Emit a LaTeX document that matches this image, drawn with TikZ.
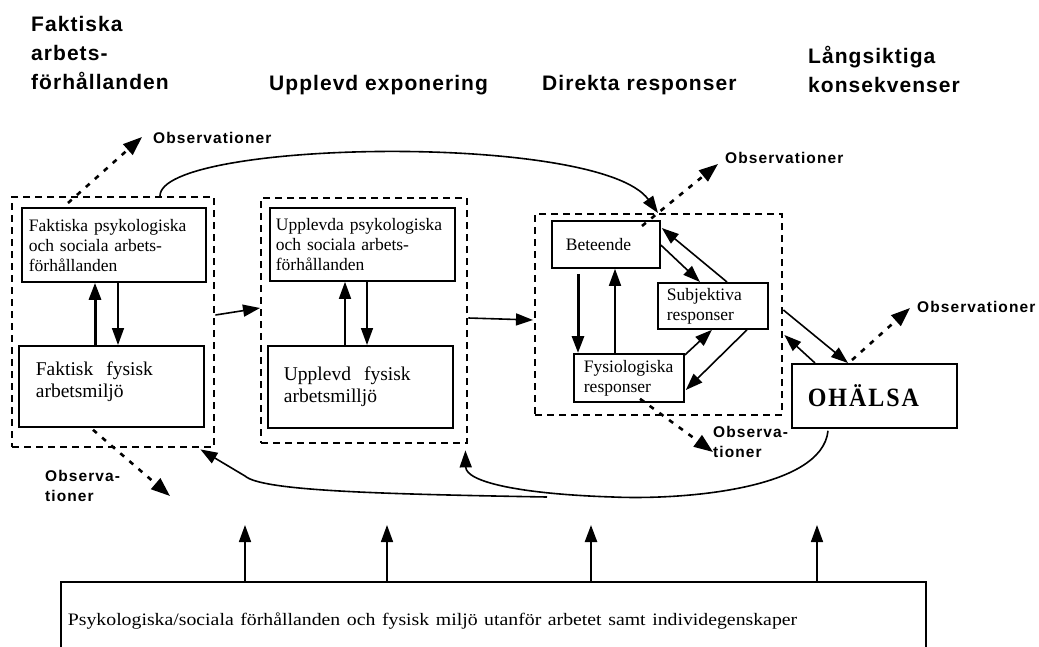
\documentclass[tikz,border=0pt]{standalone}
\usepackage{fontspec}
\setmainfont{Liberation Serif}
\newfontfamily\titlefont{Liberation Sans}[LetterSpace=5]
\newfontfamily\obsfont{Liberation Sans}[LetterSpace=7]
\newfontfamily\ohfont{Liberation Serif}[LetterSpace=8]
\usetikzlibrary{arrows.meta,calc}
\begin{document}
\begin{tikzpicture}[x=1pt,y=-1pt,
 box/.style={draw, line width=1.8pt, inner sep=0pt, anchor=north west, align=left, font=\fontsize{17.5}{20}\selectfont},
 bigbox/.style={box, font=\fontsize{19.5}{22}\selectfont},
 dbox/.style={draw, line width=2.4pt, dash pattern=on 7pt off 5pt, inner sep=0pt, anchor=north west},
 arr/.style={line width=1.6pt, -{Triangle[length=17pt,width=12pt]}},
 tarr/.style={arr, line width=3pt},
 obsarr/.style={line width=2.6pt, dash pattern=on 5pt off 7pt, -{Triangle[length=19pt,width=14pt]}},
 obs/.style={font=\obsfont\bfseries\fontsize{15.5}{19.5}\selectfont, inner sep=0pt, align=left},
 title/.style={font=\titlefont\bfseries\fontsize{21}{29}\selectfont, inner sep=0pt, align=left},
 curve/.style={line width=1.6pt},
]
\useasboundingbox (0,0) rectangle (1039,646);

% titles
\node[title, anchor=north west] (t1) at (31,16.5) {Faktiska\\arbets-\\förhållanden};
\node[title, anchor=base west] (t2) at (269,90) {Upplevd exponering};
\node[title, anchor=base west] (t3) at (542,90) {Direkta responser};
\node[title, anchor=north west] (t4) at (808,46) {Långsiktiga\\konsekvenser};

% dashed groups
\node[dbox, minimum width=202, minimum height=250] (dl) at (11,196) {};
\node[dbox, minimum width=206, minimum height=245] (dm) at (260,197) {};
\node[dbox, minimum width=247, minimum height=201] (dr) at (534,213) {};

% boxes
\node[box, minimum width=184, minimum height=74, text width=170, text depth=38pt] (fpsy) at (21,207)
  {Faktiska psykologiska\\och sociala arbets-\\förhållanden};
\node[bigbox, minimum width=185, minimum height=81, text width=151, text depth=36pt] (ffys) at (18,345)
  {Faktisk~ fysisk\\arbetsmiljö};
\node[box, minimum width=185, minimum height=73, text width=173] (upsy) at (269,207)
  {Upplevda psykologiska\\och sociala arbets-\\förhållanden};
\node[bigbox, minimum width=185, minimum height=82, text width=153] (ufys) at (267,345)
  {Upplevd~ fysisk\\arbetsmilljö};
\node[box, minimum width=108, minimum height=47, text width=80] (bet) at (551,220) {Beteende};
\node[box, minimum width=110, minimum height=46, text width=92] (subj) at (657,282) {Subjektiva\\responser};
\node[box, minimum width=110, minimum height=48, text width=90] (fysio) at (573,353) {Fysiologiska\\responser};
\node[box, minimum width=165, minimum height=64, text width=133] (oh) at (791,363)
  {\scalebox{1}[1.1]{\ohfont\bfseries\fontsize{24}{24}\selectfont OHÄLSA}};
\node[box, minimum width=865, minimum height=79, text width=851, font=\fontsize{17.5}{20}\selectfont] (bot) at (60,581)
  {\scalebox{1.13}[1]{Psykologiska/sociala förhållanden och fysisk miljö utanför arbetet samt individegenskaper}};

% internal arrows, left group
\draw[tarr] ($(ffys.north west)+(77,0)$) -- ($(fpsy.south west)+(74,0)$);
\draw[arr] ($(fpsy.south west)+(97,0)$) -- ($(ffys.north west)+(100,0)$);
% middle group
\draw[arr] ($(ufys.north west)+(78,0)$) -- ($(upsy.south west)+(76,0)$);
\draw[arr] ($(upsy.south west)+(98,0)$) -- ($(ufys.north west)+(100,0)$);
% right group
\draw[tarr] ($(bet.south west)+(27,5)$) -- ($(fysio.north west)+(5,0)$);
\draw[arr] ($(fysio.north west)+(42,0)$) -- ($(bet.south west)+(64,0)$);
\draw[arr] ($(bet.north east)+(0,25)$) -- ($(subj.north west)+(43,0)$);
\draw[arr] ($(subj.north west)+(70,0)$) -- ($(bet.north east)+(1,8)$);
\draw[arr] ($(fysio.north east)+(0,2)$) -- ($(subj.south west)+(55,0)$);
\draw[arr] ($(subj.south west)+(90,0)$) -- ($(fysio.north east)+(1,37)$);

% between groups
\draw[arr] ($(dl.north east)+(0,119)$) -- ($(dm.north west)+(0,111)$);
\draw[arr] ($(dm.north east)+(0,121)$) -- ($(dr.north west)+(-1,107)$);
\draw[arr] ($(dr.north east)+(0,97)$) -- ($(oh.north west)+(57,0)$);
\draw[arr] ($(oh.north west)+(24,0)$) -- ($(dr.north east)+(1,122)$);

% feedback curves
\draw[curve, -{Triangle[length=17pt,width=12pt]}] ($(dl.north west)+(149,0)$)
  .. controls (160,140) and (600,132) .. ($(dr.north west)+(124,0)$);
\draw[curve, -{Triangle[length=17pt,width=12pt]}] ($(oh.south west)+(37,2)$)
  .. controls (822,490) and (680,500) .. (613,497)
  .. controls (520,494) and (466,482) .. ($(dm.south east)+(-3,6)$);
\coordinate (bj) at (547,497);
\draw[curve, -{Triangle[length=17pt,width=12pt]}] (bj)
  .. controls (380,494) and (262,491) .. (245,476) -- ($(dl.south east)+(-15,1)$);

% observations
\node[obs, anchor=base west] (o1) at (153,143) {Observationer};
\node[obs, anchor=north west] (o2) at (45,470.5) {Observa-\\tioner};
\node[obs, anchor=base west] (o3) at (725,163) {Observationer};
\node[obs, anchor=north west] (o4) at (713,426.5) {Observa-\\tioner};
\node[obs, anchor=base west] (o5) at (917,312) {Observationer};
\coordinate (c1) at (142,137);
\coordinate (c2) at (170,496);
\coordinate (c3) at (718,164);
\coordinate (c4) at (713,452);
\coordinate (c5) at (910,308);
\draw[obsarr] ($(fpsy.north west)+(47,-4)$) -- (c1);
\draw[obsarr] ($(ffys.south west)+(75,2)$) -- (c2);
\draw[obsarr] ($(bet.north west)+(91,6)$) -- (c3);
\draw[obsarr] ($(fysio.south west)+(67,-4)$) -- (c4);
\draw[obsarr] ($(oh.north west)+(61,-3)$) -- (c5);

% influences from outside work
\coordinate (u1) at (245,525);
\coordinate (u2) at (387,525);
\coordinate (u3) at (591,525);
\coordinate (u4) at (817,525);
\draw[arr] ($(bot.north west)+(185,0)$) -- (u1);
\draw[arr] ($(bot.north west)+(327,0)$) -- (u2);
\draw[arr, line width=2.4pt] ($(bot.north west)+(531,0)$) -- (u3);
\draw[arr] ($(bot.north west)+(757,0)$) -- (u4);
\end{tikzpicture}
\end{document}
